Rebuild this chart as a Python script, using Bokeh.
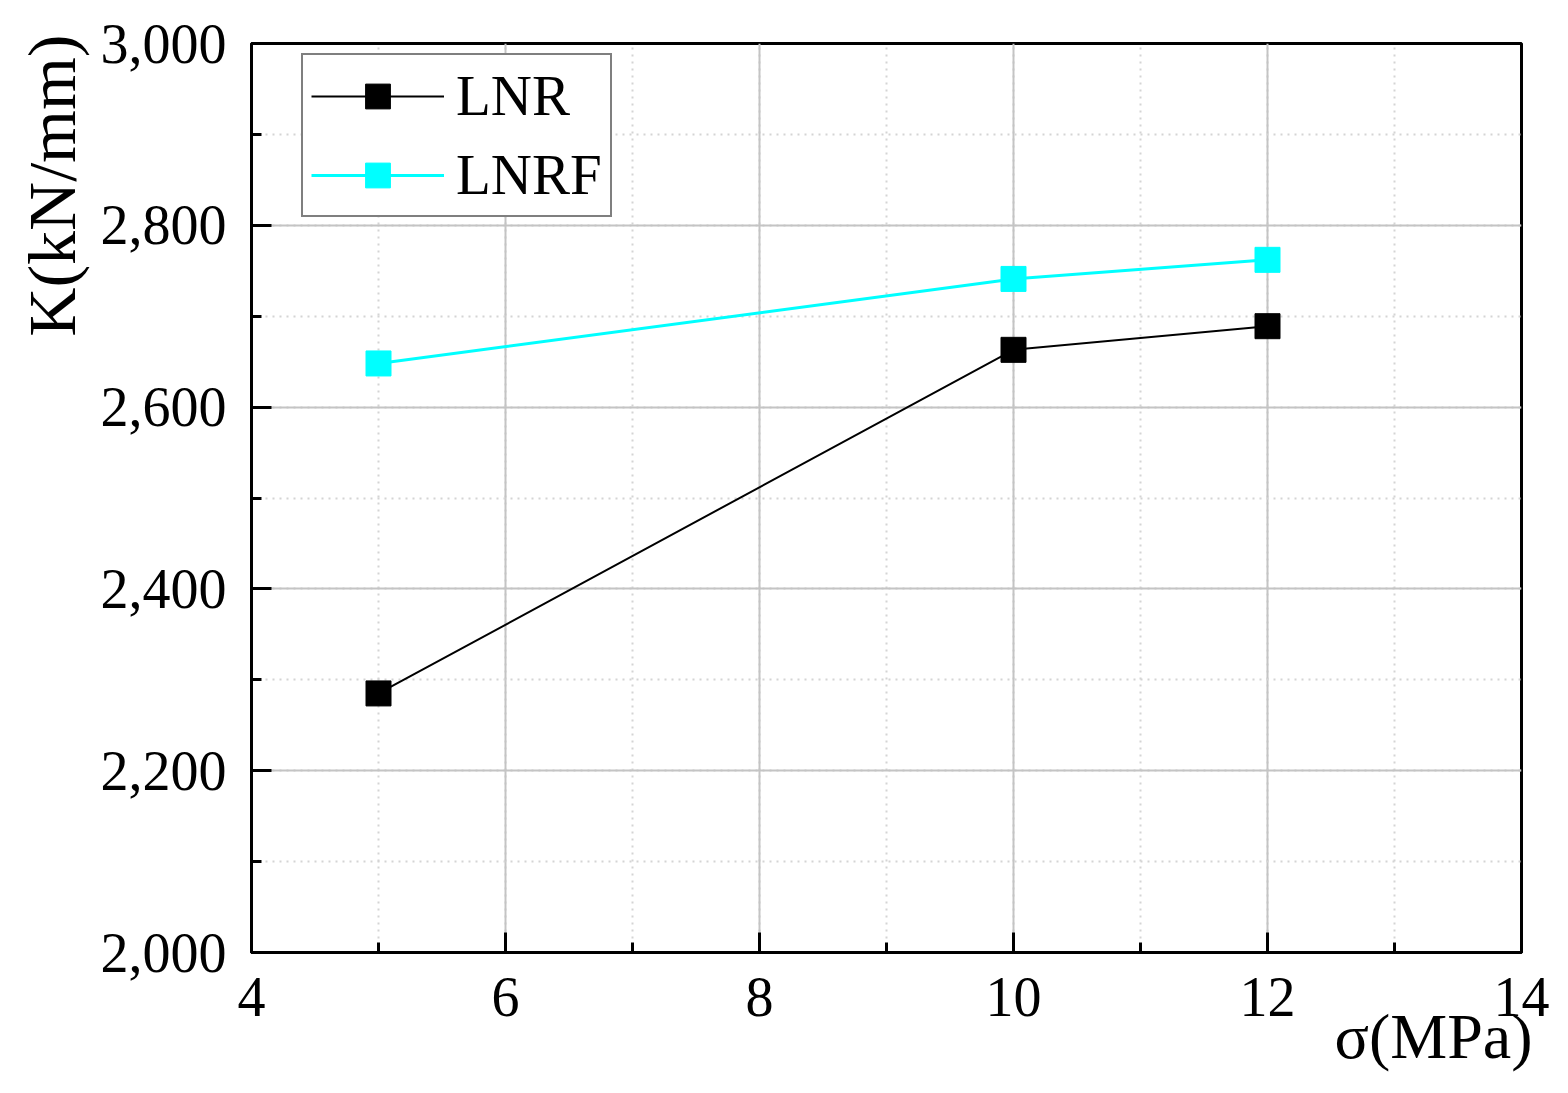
from bokeh.plotting import figure
from bokeh.models import (SingleIntervalTicker, NumeralTickFormatter, Legend, LegendItem, Range1d, Title)
from bokeh.embed import file_html
from bokeh.resources import INLINE

# ---- data ----
sigma = [5, 10, 12]
lnr = [2285, 2663, 2689]
lnrf = [2648, 2741, 2762]
series_names = ["LNR", "LNRF"]
x_label = "σ(MPa)"
y_label = "K(kN/mm)"

FONT = "Liberation Serif"

p = figure(width=1560, height=1085, output_backend="svg", toolbar_location=None,
           x_range=Range1d(4, 14), y_range=Range1d(2000, 3000),
           min_border_left=251, min_border_right=39, min_border_top=43, min_border_bottom=133)

p.outline_line_color = "black"
p.outline_line_width = 3
p.background_fill_color = "white"
p.border_fill_color = "white"

xt = SingleIntervalTicker(interval=2, num_minor_ticks=2)
yt = SingleIntervalTicker(interval=200, num_minor_ticks=2)
p.xaxis.ticker = xt
p.yaxis.ticker = yt
p.xgrid.ticker = xt
p.ygrid.ticker = yt
p.yaxis.formatter = NumeralTickFormatter(format="0,0")

for ax in (p.xaxis, p.yaxis):
    ax.axis_line_width = 3
    ax.axis_line_color = "black"
    ax.major_tick_in = 20
    ax.major_tick_out = 0
    ax.minor_tick_in = 10
    ax.minor_tick_out = 0
    ax.major_tick_line_width = 3
    ax.minor_tick_line_width = 3
    ax.major_tick_line_color = "black"
    ax.minor_tick_line_color = "black"
    ax.major_label_text_font = FONT
    ax.major_label_text_font_size = "56px"
    ax.major_label_text_color = "black"
p.xaxis.major_label_standoff = 25
p.yaxis.major_label_standoff = 25

for g in (p.xgrid, p.ygrid):
    g.grid_line_color = "#c4c4c4"
    g.grid_line_width = 2
    g.minor_grid_line_color = "#d4d4d4"
    g.minor_grid_line_width = 2
    g.minor_grid_line_dash = "2 5"

r1l = p.line(sigma, lnr, line_color="black", line_width=2)
r1s = p.scatter(sigma, lnr, marker="square", size=25, fill_color="black", line_color="black")
r2l = p.line(sigma, lnrf, line_color="#00ffff", line_width=3)
r2s = p.scatter(sigma, lnrf, marker="square", size=25, fill_color="#00ffff", line_color="#00ffff")

legend = Legend(items=[LegendItem(label=series_names[0], renderers=[r1l, r1s]),
                       LegendItem(label=series_names[1], renderers=[r2l, r2s])],
                location=(50, 735))
legend.border_line_color = "black"
legend.border_line_width = 2
legend.background_fill_alpha = 1.0
legend.label_text_font = FONT
legend.label_text_color = "black"
legend.label_text_font_size = "57px"
legend.glyph_width = 133
legend.glyph_height = 62
legend.label_height = 62
legend.spacing = 14
legend.padding = 8
legend.margin = 0
legend.label_standoff = 12
p.add_layout(legend, "center")

tx = Title(text=x_label, align="right", offset=-11, standoff=-39,
           text_font=FONT, text_font_size="64px", text_font_style="normal", text_color="black")
p.add_layout(tx, "below")
ty = Title(text=y_label, align="right", offset=-9, standoff=16,
           text_font=FONT, text_font_size="68px", text_font_style="normal", text_color="black")
p.add_layout(ty, "left")

open("out.html", "w").write(file_html(p, INLINE))
